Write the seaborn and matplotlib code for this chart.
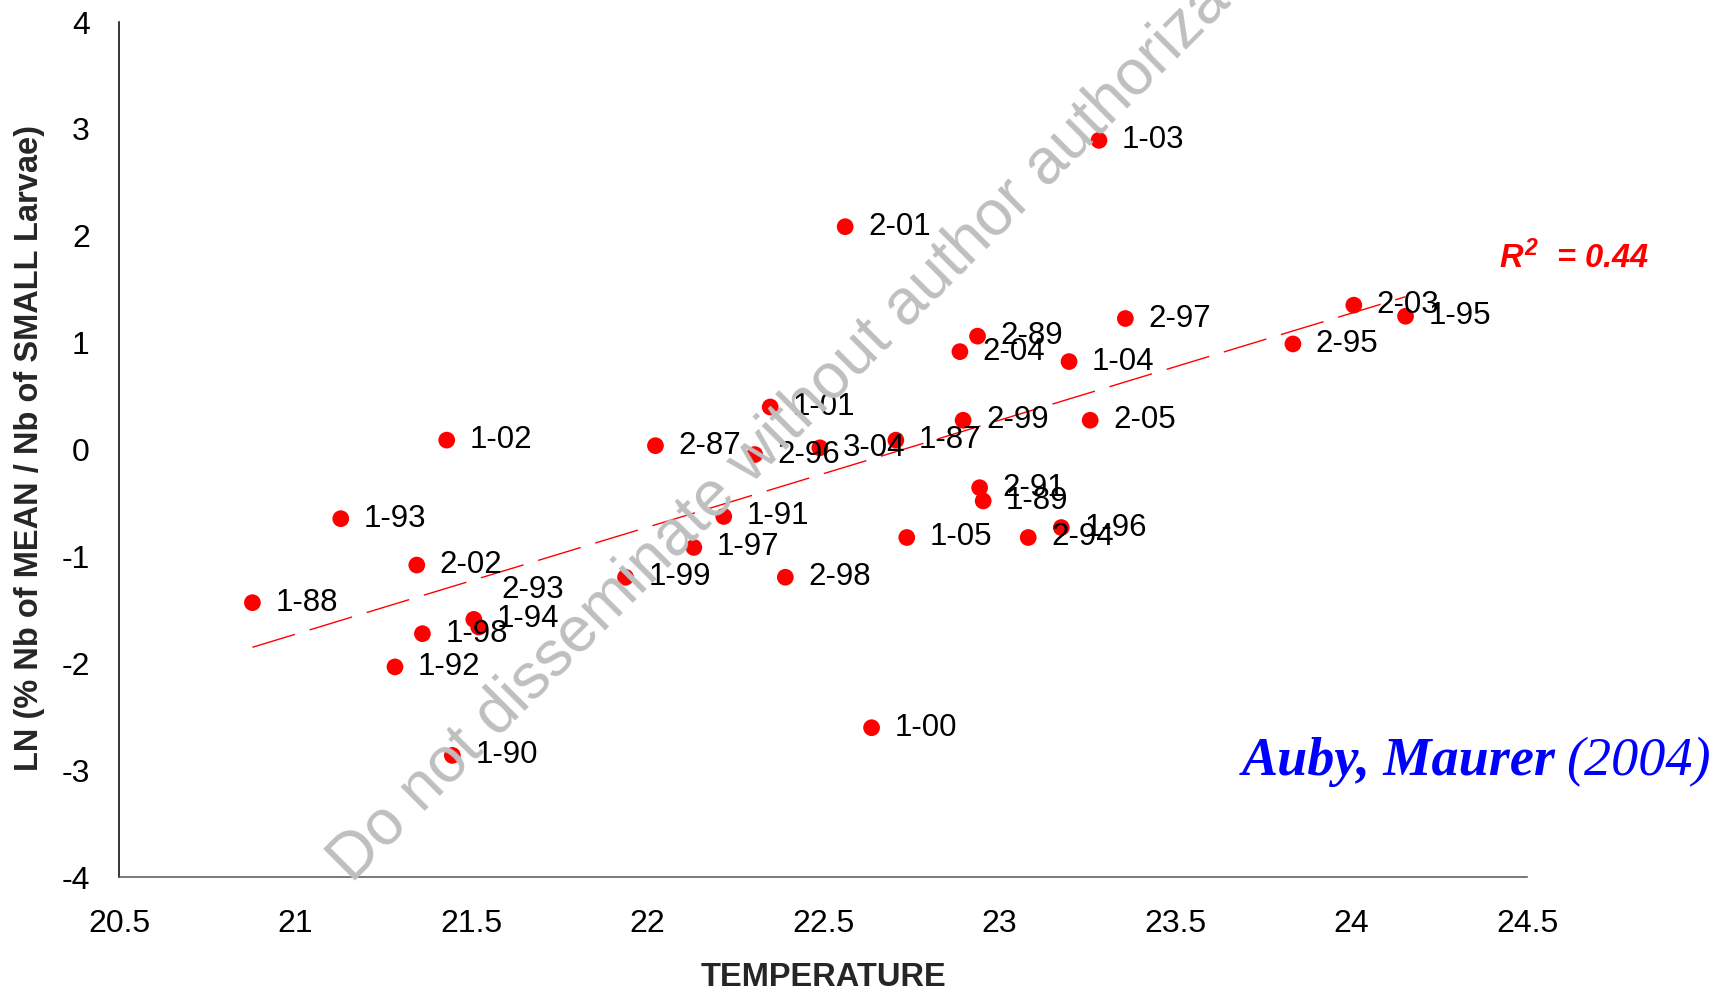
import numpy as np
import pandas as pd
import matplotlib
matplotlib.use("Agg")
import matplotlib.pyplot as plt
import seaborn as sns

# ---- data ----
labels = ['1-03', '2-01', '2-03', '1-95', '2-97', '2-89', '2-95', '2-04', '1-04',
          '1-01', '2-99', '2-05', '1-02', '2-87', '1-87', '3-04', '2-96', '2-91',
          '1-89', '1-91', '1-93', '1-96', '2-94', '1-05', '1-97', '2-02', '1-99',
          '2-98', '1-88', '1-94', '2-93', '1-98', '1-92', '1-00', '1-90']
temperature = [23.284, 22.563, 24.008, 24.155, 23.359, 22.939, 23.835, 22.889, 23.199,
               22.350, 22.898, 23.259, 21.431, 22.024, 22.707, 22.491, 22.306, 22.945,
               22.955, 22.218, 21.130, 23.177, 23.083, 22.738, 22.133, 21.346, 21.939,
               22.393, 20.879, 21.508, 21.522, 21.362, 21.284, 22.638, 21.447]
ln_ratio = [2.893, 2.085, 1.351, 1.247, 1.226, 1.061, 0.988, 0.916, 0.823,
            0.398, 0.274, 0.274, 0.088, 0.036, 0.088, 0.016, -0.047, -0.357,
            -0.481, -0.626, -0.647, -0.730, -0.823, -0.823, -0.916, -1.081, -1.195,
            -1.195, -1.433, -1.589, -1.661, -1.723, -2.034, -2.603, -2.862]
x_ticks = [20.5, 21, 21.5, 22, 22.5, 23, 23.5, 24, 24.5]
x_tick_labels = ['20.5', '21', '21.5', '22', '22.5', '23', '23.5', '24', '24.5']
y_ticks = [-4, -3, -2, -1, 0, 1, 2, 3, 4]
y_tick_labels = ['-4', '-3', '-2', '-1', '0', '1', '2', '3', '4']
r2_text = r'$R^2$  = 0.44'

df = pd.DataFrame({'temperature': temperature, 'ln': ln_ratio, 'label': labels})

sns.set_style('white')
plt.rcParams['font.family'] = ['Liberation Sans', 'DejaVu Sans']
plt.rcParams['axes.unicode_minus'] = False
plt.rcParams['mathtext.fontset'] = 'custom'
plt.rcParams['mathtext.it'] = 'Liberation Sans:bold:italic'
plt.rcParams['mathtext.rm'] = 'Liberation Sans:bold:italic'
plt.rcParams['mathtext.bf'] = 'Liberation Sans:bold:italic'

fig = plt.figure(figsize=(17.31, 9.93), dpi=100)
ax = fig.add_axes([0.06875, 0.1168, 0.8134, 0.8610])

sns.regplot(data=df, x='temperature', y='ln', scatter=False, ci=None, ax=ax,
            line_kws=dict(color='#ff0000', lw=1.0, dashes=(32, 11)))
sns.scatterplot(data=df, x='temperature', y='ln', color='#ff0000', s=145,
                edgecolor='none', linewidth=0, ax=ax, zorder=3)

for lab, xv, yv in zip(labels, temperature, ln_ratio):
    dy = 27 if lab == '2-93' else 0
    ax.annotate(lab, (xv, yv), xytext=(16.5, dy), textcoords='offset points',
                ha='left', va='center', fontsize=22.5, color='black', zorder=4)

ax.set_xlim(20.5, 24.5)
ax.set_ylim(-4, 4)
ax.set_xticks(x_ticks)
ax.set_xticklabels(x_tick_labels)
ax.set_yticks(y_ticks)
ax.set_yticklabels(y_tick_labels)
ax.tick_params(axis='both', direction='inout', length=20, width=1.1,
               color='#555555', labelsize=23, labelcolor='black')
ax.tick_params(axis='x', pad=13)
ax.tick_params(axis='y', pad=11)

for s in ['top', 'right']:
    ax.spines[s].set_visible(False)
ax.spines['left'].set_color('black')
ax.spines['bottom'].set_color('#555555')
ax.spines['left'].set_linewidth(1.1)
ax.spines['bottom'].set_linewidth(1.1)

ax.set_xlabel('TEMPERATURE', fontsize=23.5, fontweight='bold')
ax.xaxis.set_label_coords(0.5, -0.118)
ax.xaxis.label.set_va('center')
ax.set_ylabel('LN (% Nb of MEAN / Nb of SMALL Larvae)', fontsize=23.5, fontweight='bold')
ax.yaxis.set_label_coords(-0.0635, 0.502)
ax.yaxis.label.set_va('center')

fig.text(1499 / 1731, 1 - 258 / 993, r2_text, color='#ff0000', fontsize=23.5,
         fontweight='bold', fontstyle='italic', ha='left', va='center')

fig.text(1556 / 1731, 1 - 762 / 993, 'Auby, Maurer', color='#0000ff', fontsize=39,
         fontweight='bold', fontstyle='italic', family=['Liberation Serif', 'DejaVu Serif'],
         ha='right', va='center')
fig.text(1711 / 1731, 1 - 762 / 993, '(2004)', color='#0000ff', fontsize=39,
         fontstyle='italic', family=['Liberation Serif', 'DejaVu Serif'],
         ha='right', va='center')

fig.text(816 / 1731, 1 - 395 / 993, 'Do not disseminate without author authorization',
         rotation=45.0, rotation_mode='anchor', ha='center', va='center',
         fontsize=46, color='#bfbfbf', zorder=10)

fig.savefig('out.png', dpi=100)
